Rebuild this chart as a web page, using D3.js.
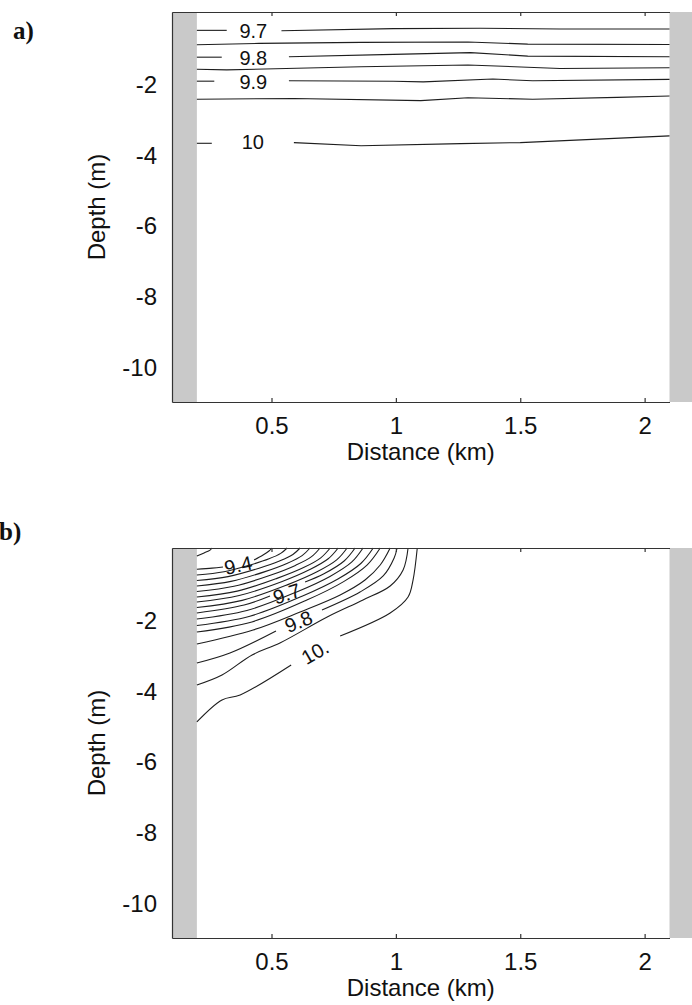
<!DOCTYPE html>
<html><head><meta charset="utf-8">
<script src="https://cdn.jsdelivr.net/npm/d3@7"></script>
<style>body{margin:0;background:#fff}svg{display:block}</style>
</head><body>
<script>
// ---------- data ----------
const xDomain = [0.1, 2.1];          // Distance (km)
const yDomain = [-11.05, 0];         // Depth (m)
const xTicks = [0.5, 1, 1.5, 2];
const xTickLabels = ["0.5", "1", "1.5", "2"];
const yTicks = [-10, -8, -6, -4, -2];
const yTickLabels = ["-10", "-8", "-6", "-4", "-2"];
const wallLeft = [0.1, 0.2];
const wallRight = [2.1, 2.2];
const panelTags = ["a)", "b)"];
const xTitle = "Distance (km)";
const yTitle = "Depth (m)";

// panel a: each contour = list of drawn pieces of [km, m]
const contoursA = [
  [[[0.20,-0.52],[0.32,-0.52]], [[0.54,-0.53],[0.99,-0.47],[1.34,-0.46],[1.66,-0.48],[2.1,-0.48]]],
  [[[0.20,-0.93],[0.45,-0.89],[0.86,-0.86],[1.29,-0.85],[1.53,-0.91],[2.1,-0.92]]],
  [[[0.20,-1.28],[0.30,-1.28]], [[0.57,-1.27],[0.99,-1.20],[1.30,-1.15],[1.53,-1.25],[2.1,-1.27]]],
  [[[0.20,-1.62],[0.32,-1.64],[0.86,-1.55],[1.29,-1.50],[1.66,-1.60],[2.1,-1.58]]],
  [[[0.20,-1.96],[0.27,-1.96]], [[0.57,-1.95],[0.99,-1.96],[1.11,-1.98],[1.39,-1.90],[1.55,-1.95],[2.1,-1.91]]],
  [[[0.20,-2.47],[0.59,-2.45],[1.10,-2.51],[1.29,-2.43],[1.55,-2.47],[1.89,-2.42],[2.1,-2.38]]],
  [[[0.20,-3.72],[0.26,-3.72]], [[0.59,-3.70],[0.86,-3.79],[1.26,-3.73],[1.50,-3.70],[2.1,-3.51]]]
];
const labelsA = [
  {text:"9.7", km:0.427, m:-0.54, angle:0},
  {text:"9.8", km:0.427, m:-1.29, angle:0},
  {text:"9.9", km:0.427, m:-1.98, angle:0},
  {text:"10",  km:0.425, m:-3.67, angle:0}
];

// panel b
const contoursB = [
  [[[0.200,-0.23],[0.229,-0.14],[0.253,-0.06],[0.261,0]]],
  [[[0.200,-0.60],[0.261,-0.57],[0.305,-0.54]], [[0.430,-0.34],[0.466,-0.20],[0.490,-0.085],[0.502,0]]],
  [[[0.200,-0.765],[0.309,-0.674],[0.418,-0.473],[0.490,-0.306],[0.537,-0.153],[0.563,0]]],
  [[[0.200,-0.921],[0.325,-0.810],[0.450,-0.572],[0.532,-0.368],[0.586,-0.184],[0.615,0]]],
  [[[0.200,-1.076],[0.337,-0.946],[0.474,-0.669],[0.564,-0.431],[0.623,-0.215],[0.655,0]]],
  [[[0.200,-1.232],[0.349,-1.085],[0.498,-0.765],[0.596,-0.493],[0.661,-0.246],[0.695,0]]],
  [[[0.200,-1.388],[0.362,-1.221],[0.522,-0.861],[0.629,-0.555],[0.698,-0.278],[0.736,0]]],
  [[[0.200,-1.530],[0.370,-1.346],[0.543,-0.949],[0.654,-0.612],[0.728,-0.306],[0.768,0]]],
  [[[0.200,-1.686],[0.382,-1.484],[0.563,-1.045],[0.683,-0.674],[0.762,-0.337],[0.804,0]]],
  [[[0.200,-1.841],[0.390,-1.615],[0.494,-1.360]], [[0.635,-0.963],[0.709,-0.737],[0.792,-0.368],[0.836,0]]],
  [[[0.200,-2.011],[0.401,-1.771],[0.601,-1.246],[0.735,-0.805],[0.822,-0.402],[0.868,0]]],
  [[[0.200,-2.195],[0.413,-1.932],[0.625,-1.360],[0.767,-0.878],[0.859,-0.439],[0.909,0]]],
  [[[0.200,-2.380],[0.421,-2.094],[0.642,-1.476],[0.790,-0.952],[0.885,-0.476],[0.937,0]]],
  [[[0.200,-2.720],[0.426,-2.323],[0.615,-1.813],[0.776,-1.331],[0.876,-0.907],[0.937,-0.482],[0.977,0]]],
  [[[0.200,-3.258],[0.333,-2.975],[0.518,-2.351]], [[0.703,-1.756],[0.856,-1.246],[0.949,-0.793],[0.993,-0.283],[1.005,0]]],
  [[[0.200,-3.881],[0.301,-3.598],[0.422,-3.031],[0.534,-2.691],[0.724,-1.955],[0.868,-1.473],[0.977,-1.076],[1.029,-0.623],[1.049,0]]],
  [[[0.200,-4.929],[0.301,-4.306],[0.374,-4.164],[0.579,-3.314]], [[0.776,-2.493],[0.977,-1.841],[1.049,-1.388],[1.069,-0.907],[1.086,0]]]
];
const labelsB = [
  {text:"9.4", km:0.366, m:-0.48, angle:-12},
  {text:"9.7", km:0.561, m:-1.29, angle:-18},
  {text:"9.8", km:0.608, m:-2.08, angle:-22},
  {text:"10.", km:0.675, m:-2.95, angle:-30}
];

// ---------- drawing ----------
const W = 692, H = 1005;
const SANS = "'Liberation Sans', Arial, Helvetica, sans-serif";
const FS = 24;
const svg = d3.select("body").append("svg").attr("width", W).attr("height", H);
svg.append("rect").attr("width", W).attr("height", H).attr("fill", "#fff");

const panels = [
  {top: 12,  contours: contoursA, labels: labelsA, tag: panelTags[0], tagX: 13, tagY: 39, curve: d3.curveLinear},
  {top: 548, contours: contoursB, labels: labelsB, tag: panelTags[1], tagX: -1, tagY: 540, curve: d3.curveCatmullRom.alpha(0.5)}
];
const plotH = 390;

panels.forEach(p => {
  const x = d3.scaleLinear().domain(xDomain).range([172, 669.5]);
  const y = d3.scaleLinear().domain(yDomain).range([p.top + plotH, p.top]);
  const g = svg.append("g");

  // grey walls
  [wallLeft, wallRight].forEach(w => {
    g.append("rect")
      .attr("x", x(w[0])).attr("y", y(yDomain[1]))
      .attr("width", x(w[1]) - x(w[0]))
      .attr("height", y(yDomain[0]) - y(yDomain[1]))
      .attr("fill", "#c9c9c9");
  });

  // contours
  const line = d3.line().x(d => x(d[0])).y(d => y(d[1])).curve(p.curve);
  p.contours.forEach(c => c.forEach(piece => {
    g.append("path").attr("d", line(piece))
      .attr("fill", "none").attr("stroke", "#1e1e1e").attr("stroke-width", 1.1)
      .attr("stroke-linejoin", "round");
  }));

  // contour labels
  p.labels.forEach(l => {
    g.append("text")
      .attr("transform", `translate(${x(l.km)},${y(l.m)}) rotate(${l.angle})`)
      .attr("text-anchor", "middle").attr("dy", "0.36em")
      .attr("font-family", SANS).attr("font-size", 20).attr("fill", "#111")
      .text(l.text);
  });

  // axes
  const axB = d3.axisBottom(x).tickValues(xTicks).tickFormat((d, i) => xTickLabels[i])
    .tickSizeInner(-4).tickSizeOuter(0).tickPadding(15);
  const gb = g.append("g").attr("transform", `translate(0,${y(yDomain[0])})`).call(axB);
  const axT = d3.axisTop(x).tickValues(xTicks).tickFormat("")
    .tickSizeInner(-4).tickSizeOuter(0);
  const gt = g.append("g").attr("transform", `translate(0,${y(yDomain[1])})`).call(axT);
  const axL = d3.axisLeft(y).tickValues(yTicks).tickFormat((d, i) => yTickLabels[i])
    .tickSize(0).tickPadding(15);
  const gl = g.append("g").attr("transform", `translate(${x(xDomain[0])},0)`).call(axL);
  [gb, gt, gl].forEach(a => {
    a.select(".domain").attr("stroke", "#333").attr("stroke-width", 1.2);
    a.selectAll(".tick line").attr("stroke", "#333").attr("stroke-width", 1.2);
    a.selectAll("text").attr("font-family", SANS).attr("font-size", FS).attr("fill", "#111");
  });
  gl.selectAll("text").attr("dy", "0.42em");

  // titles
  g.append("text").attr("x", (x(xDomain[0]) + x(xDomain[1])) / 2).attr("y", p.top + plotH + 58)
    .attr("text-anchor", "middle").attr("font-family", SANS).attr("font-size", FS).attr("fill", "#111")
    .text(xTitle);
  g.append("text").attr("transform", `translate(105,${p.top + plotH / 2}) rotate(-90)`)
    .attr("text-anchor", "middle").attr("font-family", SANS).attr("font-size", FS).attr("fill", "#111")
    .text(yTitle);

  // panel tag
  g.append("text").attr("x", p.tagX).attr("y", p.tagY)
    .attr("font-family", "'Liberation Serif', 'Times New Roman', serif").attr("font-weight", "bold")
    .attr("font-size", 25).attr("fill", "#111").text(p.tag);
});
</script>
</body></html>
